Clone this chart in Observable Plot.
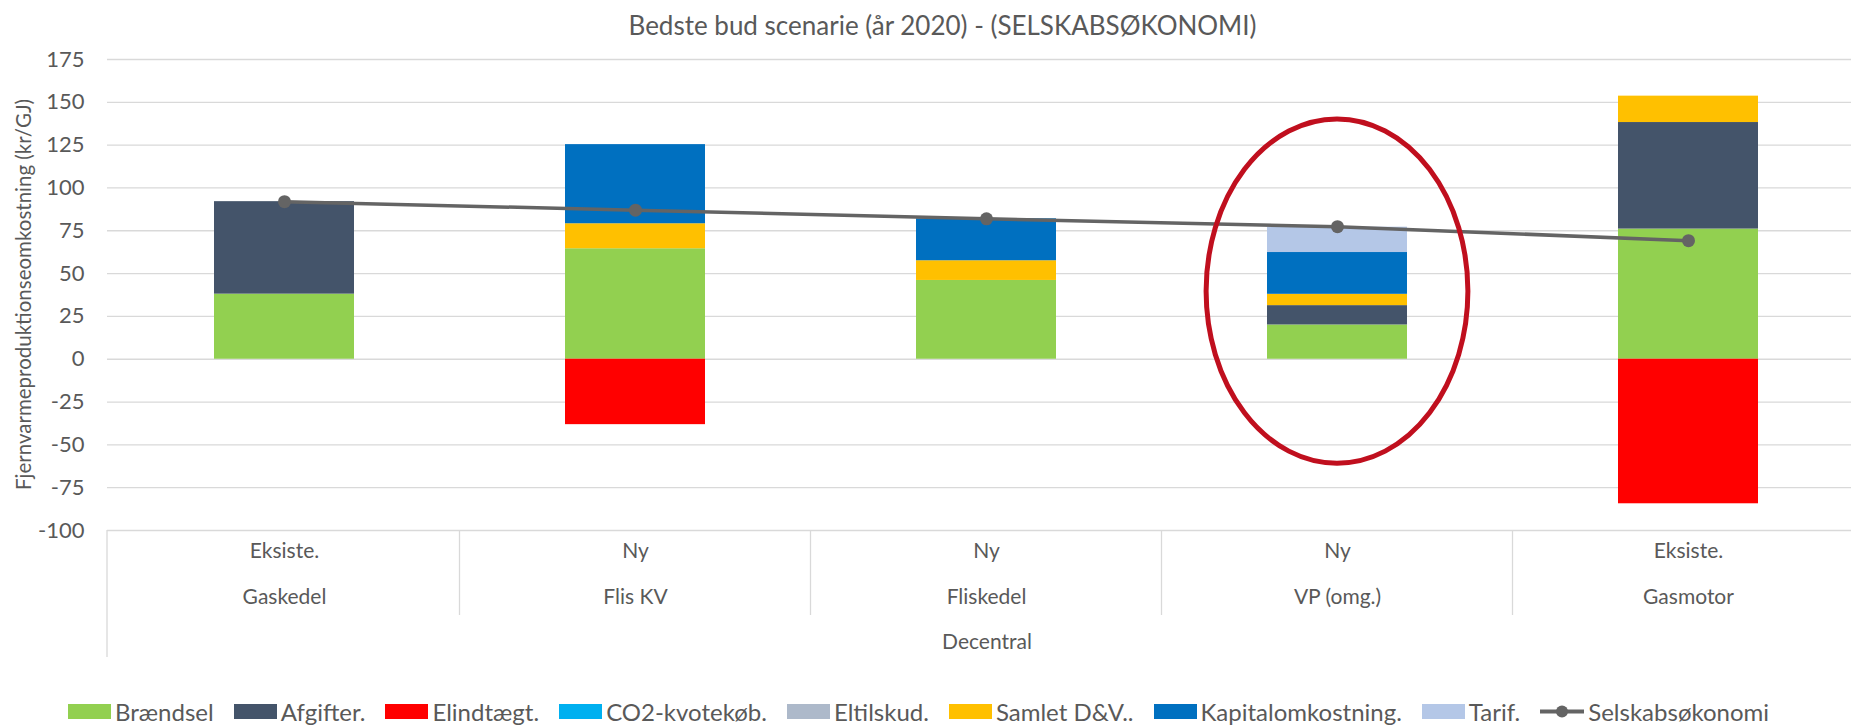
<!DOCTYPE html>
<html>
<head>
<meta charset="utf-8">
<script src="https://cdn.jsdelivr.net/npm/d3@7"></script>
<script src="https://cdn.jsdelivr.net/npm/@observablehq/plot@0.6"></script>
<style>
  html, body { margin: 0; padding: 0; background: #fff; }
  body { width: 1851px; height: 725px; overflow: hidden; font-family: Lato, "Open Sans", sans-serif; color: #595959; }
  #title { height: 45px; box-sizing: border-box; padding-top: 12px; padding-left: 34px; font-size: 26px; line-height: 26px; text-align: center; white-space: nowrap; }
  #chart { height: 620px; overflow: visible; }
  #legend { height: 60px; box-sizing: border-box; padding-top: 33px; padding-left: 68px; display: flex; align-items: center; white-space: nowrap; font-size: 24px; line-height: 24px; }
  .item { display: flex; align-items: center; margin-right: 20px; }
  .sw { width: 43px; height: 15px; margin-right: 4px; flex: none; }
</style>
</head>
<body>
<div id="title">Bedste bud scenarie (år 2020) - (SELSKABSØKONOMI)</div>
<div id="chart"></div>
<div id="legend"></div>
<script>
// ---- data ----
const categories = ["Gaskedel", "Flis KV", "Fliskedel", "VP (omg.)", "Gasmotor"];
const status = ["Eksiste.", "Ny", "Ny", "Ny", "Eksiste."];
const group = "Decentral";

const braendsel   = [38, 64.5, 46, 20, 76];
const afgifter    = [54, 0, 0, 11.3, 62.2];
const elindtaegt  = [0, -38.2, 0, 0, -84.4];
const co2kvote    = [0, 0, 0, 0, 0];
const eltilskud   = [0, 0, 0, 0, 0];
const samletDV    = [0, 14.6, 11.5, 6.6, 15.4];
const kapital     = [0, 46.2, 24.5, 24.4, 0];
const tarif       = [0, 0, 0, 14.8, 0];
const selskab     = [92, 87, 82, 77.4, 69.2];

const seriesNames = ["Brændsel", "Afgifter.", "Elindtægt.", "CO2-kvotekøb.", "Eltilskud.", "Samlet D&V..", "Kapitalomkostning.", "Tarif."];
const seriesColors = ["#92D050", "#44546A", "#FF0000", "#00B0F0", "#ADB9CA", "#FFC000", "#0070C0", "#B4C7E7"];
const lineName = "Selskabsøkonomi";
const lineColor = "#646464";

const yTicks = [-100, -75, -50, -25, 0, 25, 50, 75, 100, 125, 150, 175];
const yTitle = "Fjernvarmeproduktionseomkostning (kr/GJ)";
const titleText = "Bedste bud scenarie (år 2020) - (SELSKABSØKONOMI)";

// highlighted category (red ellipse annotation), in data units
const highlightCategory = "VP (omg.)";
const highlightTop = 140;
const highlightBottom = -61;

// ---- build tables ----
const seriesValues = [braendsel, afgifter, elindtaegt, co2kvote, eltilskud, samletDV, kapital, tarif];
const rows = seriesNames.flatMap((s, i) => categories.map((c, j) => ({category: c, series: s, value: seriesValues[i][j]})));
const lineRows = categories.map((c, j) => ({category: c, value: selskab[j]}));
const catRows = categories.map((c, j) => ({category: c, status: status[j]}));

document.getElementById("title").textContent = titleText;

const svgNS = "http://www.w3.org/2000/svg";

function separators(index, scales, values, dims) {
  const x = scales.x;
  const bw = x.bandwidth ? x.bandwidth() : 0;
  const g = document.createElementNS(svgNS, "g");
  const yb = dims.height - dims.marginBottom;
  const xs = [dims.marginLeft];
  for (let i = 0; i < categories.length - 1; i++) {
    xs.push((x(categories[i]) + bw + x(categories[i + 1])) / 2);
  }
  xs.push(dims.width - dims.marginRight);
  xs.forEach((xv, i) => {
    const l = document.createElementNS(svgNS, "line");
    l.setAttribute("x1", xv); l.setAttribute("x2", xv);
    l.setAttribute("y1", yb);
    l.setAttribute("y2", yb + (i === 0 ? 127 : 85));
    l.setAttribute("stroke", "#d9d9d9");
    l.setAttribute("stroke-width", 1.3);
    g.appendChild(l);
  });
  return g;
}

function yTitleMark(index, scales, values, dims) {
  const cx = dims.marginLeft - 83;
  const cy = (dims.marginTop + dims.height - dims.marginBottom) / 2;
  const t = document.createElementNS(svgNS, "text");
  t.setAttribute("transform", `translate(${cx},${cy}) rotate(-90)`);
  t.setAttribute("text-anchor", "middle");
  t.setAttribute("dy", "0.35em");
  t.setAttribute("font-size", 20.5);
  t.setAttribute("fill", "#595959");
  t.textContent = yTitle;
  return t;
}

function ellipseMark(index, scales, values, dims) {
  const x = scales.x, y = scales.y;
  const bw = x.bandwidth ? x.bandwidth() : 0;
  const cx = x(highlightCategory) + bw / 2;
  const y1 = y(highlightTop), y2 = y(highlightBottom);
  const e = document.createElementNS(svgNS, "ellipse");
  e.setAttribute("cx", cx);
  e.setAttribute("cy", (y1 + y2) / 2);
  e.setAttribute("rx", bw * 0.935);
  e.setAttribute("ry", Math.abs(y2 - y1) / 2);
  e.setAttribute("fill", "none");
  e.setAttribute("stroke", "#C00F1E");
  e.setAttribute("stroke-width", 5);
  return e;
}

const chart = Plot.plot({
  width: 1866,
  height: 620,
  marginTop: 14,
  marginBottom: 135,
  marginLeft: 107,
  marginRight: 0,
  style: {fontFamily: "Lato, 'Open Sans', sans-serif", color: "#595959", background: "white", maxWidth: "none", overflow: "visible"},
  x: {domain: categories, paddingInner: 0.6, paddingOuter: 0.3, axis: null},
  y: {domain: [-100, 175], axis: null},
  color: {domain: seriesNames, range: seriesColors},
  marks: [
    Plot.ruleY(yTicks, {stroke: "#d9d9d9", strokeWidth: 1.3}),
    Plot.text(yTicks, {y: d => d, text: d => String(d), frameAnchor: "left", dx: -23, textAnchor: "end", fontSize: 22, fill: "#595959"}),
    yTitleMark,
    Plot.barY(rows, {x: "category", y: "value", fill: "series"}),
    Plot.line(lineRows, {x: "category", y: "value", stroke: lineColor, strokeWidth: 3.5}),
    Plot.dot(lineRows, {x: "category", y: "value", fill: lineColor, r: 6.5}),
    ellipseMark,
    separators,
    Plot.text(catRows, {x: "category", text: "status", frameAnchor: "bottom", dy: 27, fontSize: 21, fill: "#595959"}),
    Plot.text(catRows, {x: "category", text: "category", frameAnchor: "bottom", dy: 73.5, fontSize: 21, fill: "#595959"}),
    Plot.text([group], {text: d => d, frameAnchor: "bottom", dy: 118, fontSize: 21, fill: "#595959"})
  ]
});
document.getElementById("chart").appendChild(chart);

// ---- legend ----
const legend = document.getElementById("legend");
seriesNames.forEach((s, i) => {
  const it = document.createElement("div");
  it.className = "item";
  const sw = document.createElement("div");
  sw.className = "sw";
  sw.style.background = seriesColors[i];
  const t = document.createElement("span");
  t.textContent = s;
  it.appendChild(sw); it.appendChild(t);
  legend.appendChild(it);
});
{
  const it = document.createElement("div");
  it.className = "item";
  it.innerHTML = `<svg width="44" height="15" style="margin-right:4px;flex:none"><line x1="0" x2="44" y1="7.5" y2="7.5" stroke="${lineColor}" stroke-width="4"/><circle cx="22" cy="7.5" r="6" fill="${lineColor}"/></svg>`;
  const t = document.createElement("span");
  t.textContent = lineName;
  it.appendChild(t);
  legend.appendChild(it);
}
</script>
</body>
</html>
